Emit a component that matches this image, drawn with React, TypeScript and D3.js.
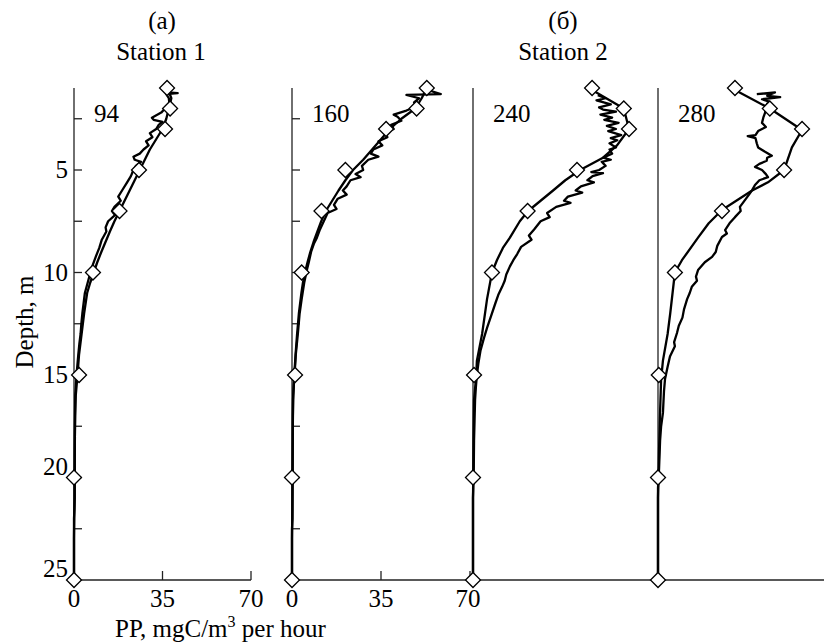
import React from "react";
import * as d3 from "d3";

type Pt = [number, number]; // [depth m, PP]

// Discrete sample depths (diamonds) and measured PP values
const sampleDepths = [1, 2, 3, 5, 7, 10, 15, 20, 25];
const pp94 = [36.8, 38, 36, 25.7, 18, 7.5, 2, 0, 0];
const pp160 = [53, 49, 37, 21, 11.6, 3.8, 1.2, 0, 0];
const pp240 = [45.8, 58, 60, 40, 21, 7.3, 0.4, 0, 0];
const pp280 = [29.6, 43, 55.4, 48.5, 24.6, 6.5, 0.3, 0, 0];

// Continuous profiles (two per panel)
const prof94a: Pt[] = [[1,37],[1.5,38.5],[2,37.5],[2.5,36.5],[3,35],[3.5,32.5],[4,30],[4.5,28],[5,26],[5.5,24],[6,22],[6.5,20],[7,18],[7.5,16],[8,14.2],[8.5,12.5],[9,10.8],[9.5,9.2],[10,7.8],[10.5,6.4],[11,5.2],[12,4],[13,3],[14,2],[15,1.4],[16,0.7],[17,0.45],[18,0.35],[19,0.3],[20,0.25],[21,0.2],[22,0.1],[23,0],[25,0]];
const prof94b: Pt[] = [[1.2,36],[1.25,41],[1.3,36.5],[1.5,37.5],[1.8,37.8],[2,36],[2.2,34.5],[2.45,30.8],[2.55,31.5],[2.65,35],[2.8,33.5],[3,32.5],[3.2,30],[3.4,31],[3.6,28.5],[3.8,29.5],[4,27.5],[4.2,26],[4.35,23.5],[4.5,24],[4.6,26.5],[4.8,24.5],[5,23.5],[5.3,22.5],[5.6,21],[6,19],[6.3,17.5],[6.5,18.5],[6.8,16],[7,15],[7.2,16.2],[7.5,13.5],[7.8,12.5],[8,12.8],[8.4,11],[8.8,10],[9.2,8.7],[9.6,7.5],[10,6.5],[10.5,5.4],[11,4.3],[11.5,3.8],[12,3.3],[12.5,2.9],[13,2.6],[13.5,2.1],[14,1.7],[15,1],[16,0.5],[17,0.4],[18,0.35],[19,0.3],[20,0.3],[21,0.3],[21.5,0.2],[22,0],[25,0]];

const prof160a: Pt[] = [[1,53],[1.5,51],[2,48.5],[2.5,43],[3,38.5],[3.5,35],[4,31.5],[4.5,28],[5,24],[5.5,21],[6,18.3],[6.5,15.8],[7,13.3],[7.5,11.5],[8,10],[8.5,8.5],[9,7.2],[9.5,6.1],[10,5.1],[10.5,4.3],[11,3.7],[12,2.7],[13,2],[14,1.4],[15,0.9],[16,0.5],[17,0.35],[18,0.3],[20,0.25],[22,0.2],[22.5,0],[25,0]];
const prof160b: Pt[] = [[1,51],[1.3,58.5],[1.34,45],[1.5,50],[1.7,48],[1.9,49],[2.1,45],[2.3,40],[2.4,41.5],[2.6,43],[2.8,39],[3,40],[3.2,36.5],[3.4,37.5],[3.6,34],[3.8,35.5],[4,32],[4.2,31],[4.35,34],[4.5,30],[4.8,27.5],[5,28],[5.2,25],[5.35,27],[5.5,23],[5.8,21.5],[6,20],[6.2,21.5],[6.4,18],[6.7,16.5],[6.9,17.5],[7.1,14],[7.5,12.5],[7.9,11],[8.3,9.8],[8.6,8.6],[9,7.5],[9.5,6.6],[9.9,5.8],[10.5,4.8],[11.3,3.8],[12,3],[13,2.3],[14,1.5],[14.6,1.2],[15.5,0.7],[16.2,0.4],[18,0.3],[20,0.2],[22,0.1],[23,0],[25,0]];

const prof240a: Pt[] = [[1.1,45.8],[2,58],[3,60],[3.8,55.4],[4.4,50],[5,41.2],[5.5,35.5],[6,30.8],[6.5,26],[7,21.2],[7.5,18],[8.3,14.2],[8.8,11.5],[9.4,9.2],[10,7.3],[11.3,5.4],[13,3.5],[14.3,1.5],[15.1,1.2],[16.2,0.4],[18,0.2],[20,0.1],[21,0],[25,0]];
const prof240b: Pt[] = [[1.35,48],[1.5,51],[1.6,47.5],[1.8,53],[1.95,48.5],[2.05,50],[2.15,55],[2.3,49],[2.45,53.5],[2.55,50.5],[2.7,56],[2.85,51.5],[3,55],[3.1,52],[3.3,57],[3.45,53],[3.55,55.5],[3.7,52.5],[3.9,55],[4,52.5],[4.2,53.5],[4.4,50],[4.5,53],[4.6,49.5],[4.8,51],[5,48.5],[5.1,45.5],[5.15,50],[5.3,46],[5.5,44],[5.6,46.5],[5.8,41.5],[6,39.5],[6.1,42],[6.3,36.5],[6.5,35],[6.6,37.5],[6.8,32],[7.1,28.5],[7.3,29.5],[7.5,26],[7.9,23.5],[8.2,21.5],[8.4,22.5],[8.75,18.5],[9.1,17],[9.4,15.5],[9.7,14.2],[10.1,12.8],[10.4,12.2],[10.7,11.2],[11.1,9.7],[11.5,8.6],[12.1,7],[12.7,5.4],[13.2,4.2],[13.8,2.9],[14.4,2.1],[15,1.5],[15.6,1.1],[16.2,0.8],[17.2,0.6],[18.2,0.4],[19.5,0.3],[20.5,0.1],[21,0],[25,0]];

const prof280a: Pt[] = [[1.1,29.6],[2,43],[3.05,55.4],[3.9,51.5],[5,48.5],[5.6,42.3],[6,36.2],[6.95,24.6],[7.6,19.5],[8.3,15.4],[9.4,9.2],[10,6.5],[11,5.6],[12,4.7],[13,3.7],[14.3,1.9],[15.2,1.2],[17.2,0.7],[18.7,0.4],[20,0.2],[21,0],[25,0]];
const prof280b: Pt[] = [[1.3,38],[1.22,45],[1.38,42],[1.45,47],[1.55,40],[1.65,42.5],[1.9,41.5],[2.2,41.2],[2.45,40.5],[2.7,40],[2.9,41.5],[3.1,38.5],[3.3,37.5],[3.35,34.5],[3.45,37.5],[3.7,38],[3.9,38.5],[4.1,41],[4.3,43.8],[4.4,42],[4.55,41.8],[4.7,39],[4.85,37.3],[5,40],[5.2,41.5],[5.35,42.3],[5.5,39],[5.73,37.3],[5.98,36.2],[6.2,35],[6.46,33.5],[6.8,31.5],[7,31.8],[7.3,29.6],[7.6,27.5],[7.93,25.8],[8.1,26.5],[8.27,24.6],[8.7,22.8],[9,22.2],[9.24,20.8],[9.5,18],[9.88,15.4],[10.2,14.6],[10.4,15],[10.7,13],[11,12.2],[11.3,11.2],[11.8,10],[12.2,9.4],[12.6,8],[12.95,7.3],[13.4,6.2],[13.6,6.5],[14.1,4.6],[14.6,3.7],[15.2,2.7],[15.8,2.3],[16.85,1.9],[17.5,1.2],[18.2,0.8],[19.6,0.4],[20.5,0],[25,0]];

const depthTicks = [2.5, 5, 7.5, 10, 12.5, 15, 17.5, 20, 22.5];
const depthLabels = [5, 10, 15, 20, 25];
const ppTicks = [0, 35, 70];
const panelLabels = ["94", "160", "240", "280"];

const FONT = "'Liberation Serif', 'Times New Roman', serif";

export default function App() {
  const y = d3.scaleLinear().domain([1, 25]).range([88, 580]);
  const panels = [
    { label: panelLabels[0], vals: pp94, a: prof94a, b: prof94b, x: d3.scaleLinear().domain([0, 70]).range([74, 251]), yTicks: true, xTicks: true },
    { label: panelLabels[1], vals: pp160, a: prof160a, b: prof160b, x: d3.scaleLinear().domain([0, 70]).range([292, 470]), yTicks: true, xTicks: true },
    { label: panelLabels[2], vals: pp240, a: prof240a, b: prof240b, x: d3.scaleLinear().domain([0, 70]).range([473, 655]), yTicks: false, xTicks: false },
    { label: panelLabels[3], vals: pp280, a: prof280a, b: prof280b, x: d3.scaleLinear().domain([0, 70]).range([658, 840]), yTicks: false, xTicks: false },
  ];
  const diamond = d3.symbol().type(d3.symbolSquare).size(112)() as string;
  const [y0, y1] = y.range();

  return (
    <svg width={826} height={644} style={{ position: "absolute", left: 0, top: 0, background: "#fff" }} fontFamily={FONT}>
      <rect x={0} y={0} width={826} height={644} fill="#fff" />
      {/* Titles */}
      <text x={162} y={29} fontSize={25} textAnchor="middle">(a)</text>
      <text x={161} y={60} fontSize={25} textAnchor="middle">Station 1</text>
      <text x={563} y={29} fontSize={25} textAnchor="middle">(б)</text>
      <text x={563} y={60} fontSize={25} textAnchor="middle">Station 2</text>
      {/* Axis titles */}
      <text transform={`translate(33,322) rotate(-90)`} fontSize={25} textAnchor="middle">Depth, m</text>
      <text x={115} y={637} fontSize={25}>
        PP, mgC/m<tspan dy={-10} fontSize={16}>3</tspan><tspan dy={10}> per hour</tspan>
      </text>
      {/* Depth labels */}
      {depthLabels.map((d) => (
        <text key={d} x={68} y={y(d) + (d >= 20 ? -3 : 8)} fontSize={25} textAnchor="end">{d}</text>
      ))}
      {/* Bottom axis lines */}
      <line x1={panels[0].x(0)} x2={panels[0].x(70)} y1={y1} y2={y1} stroke="#222" strokeWidth={1.3} />
      <line x1={panels[1].x(0)} x2={824} y1={y1} y2={y1} stroke="#222" strokeWidth={1.3} />
      {panels.map((p, i) => (
        <g key={i}>
          <line x1={p.x(0)} x2={p.x(0)} y1={y0} y2={y1} stroke="#222" strokeWidth={1.3} />
          {p.yTicks && depthTicks.map((d) => (
            <line key={d} x1={p.x(0)} x2={p.x(0) + 8} y1={y(d)} y2={y(d)} stroke="#222" strokeWidth={1.3} />
          ))}
          {p.xTicks && ppTicks.slice(1).map((v) => (
            <line key={v} x1={p.x(v)} x2={p.x(v)} y1={y1} y2={y1 - 9} stroke="#222" strokeWidth={1.3} />
          ))}
          {p.xTicks && ppTicks.map((v) => (
            <text key={v} x={p.x(v) + (i === 1 && v === 70 ? -2 : 0)} y={607} fontSize={25} textAnchor="middle">{v}</text>
          ))}
          <text x={p.x(0) + 20} y={122} fontSize={25}>{p.label}</text>
          {[p.b, p.a].map((c, j) => (
            <path key={j}
              d={d3.line<Pt>().x((q) => p.x(q[1])).y((q) => y(q[0]))(c) as string}
              fill="none" stroke="#000" strokeWidth={2.3} strokeLinejoin="round" />
          ))}
          {sampleDepths.map((d, k) => (
            <path key={k} d={diamond}
              transform={`translate(${p.x(p.vals[k])},${y(d)}) rotate(45)`}
              fill="#fff" stroke="#000" strokeWidth={1.3} />
          ))}
        </g>
      ))}
    </svg>
  );
}
